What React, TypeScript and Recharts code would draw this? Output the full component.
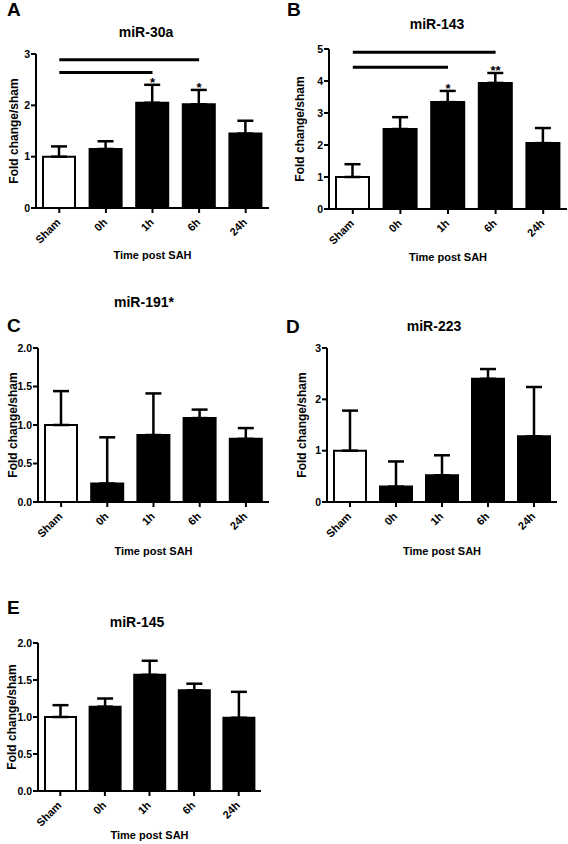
import { BarChart, Bar, XAxis, YAxis, Cell, ErrorBar, ReferenceLine, ReferenceDot } from 'recharts'

const FONT = '"Liberation Sans", Arial, Helvetica, sans-serif'

const times = ['Sham', '0h', '1h', '6h', '24h']

// mean fold change and SEM at each time point
const mir30aMean = [1.0, 1.15, 2.05, 2.02, 1.45]
const mir30aSem = [0.2, 0.15, 0.35, 0.28, 0.25]
const mir30aStars = ['', '', '*', '*', '']

const mir143Mean = [1.0, 2.5, 3.34, 3.94, 2.06]
const mir143Sem = [0.4, 0.37, 0.35, 0.31, 0.47]
const mir143Stars = ['', '', '*', '**', '']

const mir191Mean = [1.0, 0.24, 0.87, 1.09, 0.82]
const mir191Sem = [0.44, 0.6, 0.54, 0.11, 0.14]

const mir223Mean = [1.0, 0.3, 0.52, 2.4, 1.28]
const mir223Sem = [0.78, 0.49, 0.39, 0.19, 0.96]

const mir145Mean = [1.0, 1.14, 1.57, 1.36, 0.99]
const mir145Sem = [0.16, 0.11, 0.19, 0.09, 0.35]

// significance bars: from group, to group, height
const mir30aBrackets: [string, string, number][] = [['Sham', '6h', 2.89], ['Sham', '1h', 2.64]]
const mir143Brackets: [string, string, number][] = [['Sham', '6h', 4.9], ['Sham', '1h', 4.43]]

const intTicks3 = [0, 1, 2, 3]
const intTicks5 = [0, 1, 2, 3, 4, 5]
const halfTicks = [0, 0.5, 1, 1.5, 2]

type Geo = {
  left: number; top: number; width: number; plotBottom: number
  yw: number; mt: number; mr: number; xh: number; labelGap: number; ylabX: number; barSize: number
}

function TimeTick({ x, y, payload }: any) {
  const tx = x + 2
  const ty = y + 8
  return (
    <text x={tx} y={ty} textAnchor="end" transform={`rotate(-45 ${tx} ${ty})`}
      fontSize={11} fontWeight="bold" fontFamily={FONT} fill="#000">
      {payload.value}
    </text>
  )
}

function Panel({ mean, sem, stars, brackets, ticks, decimals, geo }: {
  mean: number[]; sem: number[]; stars?: string[]; brackets?: [string, string, number][]
  ticks: number[]; decimals: number; geo: Geo
}) {
  const data = times.map((t, i) => ({ time: t, mean: mean[i], err: [0, sem[i]] }))
  const height = geo.plotBottom - geo.top + geo.xh
  const axisStyle = { stroke: '#000', strokeWidth: 2 }
  return (
    <div style={{ position: 'absolute', left: geo.left, top: geo.top }}>
      <BarChart width={geo.width} height={height} data={data}
        margin={{ top: geo.mt, right: geo.mr, bottom: 0, left: 0 }}>
        <XAxis dataKey="time" interval={0} height={geo.xh} tickSize={5}
          axisLine={axisStyle} tickLine={axisStyle} tick={<TimeTick />}
          label={{ value: 'Time post SAH', position: 'insideBottom', offset: geo.xh - geo.labelGap,
            style: { fontSize: 11, fontWeight: 'bold', fontFamily: FONT, fill: '#000' } }} />
        <YAxis width={geo.yw} domain={[0, ticks[ticks.length - 1]]} ticks={ticks} interval={0}
          tickSize={5} tickMargin={1} axisLine={axisStyle} tickLine={axisStyle}
          tickFormatter={(v: number) => v.toFixed(decimals)}
          tick={{ fontSize: 10.5, fontWeight: 'bold', fontFamily: FONT, fill: '#000' }}
          label={{ value: 'Fold change/sham', angle: -90, position: 'insideLeft', offset: geo.ylabX,
            style: { textAnchor: 'middle', fontSize: 12, fontWeight: 'bold', fontFamily: FONT, fill: '#000' } }} />
        <Bar dataKey="mean" barSize={geo.barSize} isAnimationActive={false}>
          {data.map((d) => (
            <Cell key={d.time} fill={d.time === 'Sham' ? '#fff' : '#000'} stroke="#000" strokeWidth={2} />
          ))}
          <ErrorBar dataKey="err" direction="y" width={8} stroke="#000" strokeWidth={2.5} />
        </Bar>
        {(brackets ?? []).map(([a, b, y]) => (
          <ReferenceLine key={`${a}-${b}`} segment={[{ x: a, y }, { x: b, y }]}
            stroke="#000" strokeWidth={3} ifOverflow="visible" />
        ))}
        {(stars ?? []).map((s, i) => s ? (
          <ReferenceDot key={times[i]} x={times[i]} y={mean[i] + sem[i]} r={1} fill="none" stroke="none"
            ifOverflow="visible"
            label={{ value: s, position: 'top', offset: -3,
              style: { fontSize: 13, fontWeight: 'bold', fontFamily: FONT, fill: '#000' } }} />
        ) : null)}
      </BarChart>
    </div>
  )
}

const letterStyle = { fontSize: 19, fontWeight: 'bold' as const, fontFamily: FONT, fill: '#000' }
const titleStyle = { fontSize: 14, fontWeight: 'bold' as const, fontFamily: FONT, fill: '#000' }

export default function App() {
  return (
    <div style={{ position: 'absolute', left: 0, top: 0, width: 568, height: 844, background: '#fff', overflow: 'hidden' }}>
      <Panel mean={mir30aMean} sem={mir30aSem} stars={mir30aStars} brackets={mir30aBrackets}
        ticks={intTicks3} decimals={0}
        geo={{ left: 0, top: 0, width: 284, plotBottom: 208, yw: 36, mt: 54, mr: 15, xh: 60, labelGap: 51, ylabX: 14, barSize: 32 }} />
      <Panel mean={mir143Mean} sem={mir143Sem} stars={mir143Stars} brackets={mir143Brackets}
        ticks={intTicks5} decimals={0}
        geo={{ left: 284, top: 0, width: 284, plotBottom: 209, yw: 45, mt: 49, mr: 1, xh: 60, labelGap: 52, ylabX: 16, barSize: 33 }} />
      <Panel mean={mir191Mean} sem={mir191Sem} ticks={halfTicks} decimals={1}
        geo={{ left: 0, top: 280, width: 284, plotBottom: 502, yw: 38, mt: 68, mr: 15, xh: 60, labelGap: 53, ylabX: 13, barSize: 32 }} />
      <Panel mean={mir223Mean} sem={mir223Sem} ticks={intTicks3} decimals={0}
        geo={{ left: 284, top: 280, width: 284, plotBottom: 502, yw: 43, mt: 68, mr: 11, xh: 60, labelGap: 53, ylabX: 18, barSize: 32 }} />
      <Panel mean={mir145Mean} sem={mir145Sem} ticks={halfTicks} decimals={1}
        geo={{ left: 0, top: 570, width: 284, plotBottom: 791, yw: 38, mt: 73, mr: 23, xh: 53, labelGap: 48, ylabX: 12, barSize: 31 }} />
      <svg width={568} height={844} style={{ position: 'absolute', left: 0, top: 0, pointerEvents: 'none' }}>
        <text x={7} y={16} {...letterStyle}>A</text>
        <text x={287} y={16} {...letterStyle}>B</text>
        <text x={7} y={332} {...letterStyle}>C</text>
        <text x={286} y={333} {...letterStyle}>D</text>
        <text x={7} y={614} {...letterStyle}>E</text>
        <text x={146} y={37} textAnchor="middle" {...titleStyle}>miR-30a</text>
        <text x={437} y={29} textAnchor="middle" {...titleStyle}>miR-143</text>
        <text x={144} y={307} textAnchor="middle" {...titleStyle}>miR-191*</text>
        <text x={434} y={331} textAnchor="middle" {...titleStyle}>miR-223</text>
        <text x={137} y={627} textAnchor="middle" {...titleStyle}>miR-145</text>
      </svg>
    </div>
  )
}
